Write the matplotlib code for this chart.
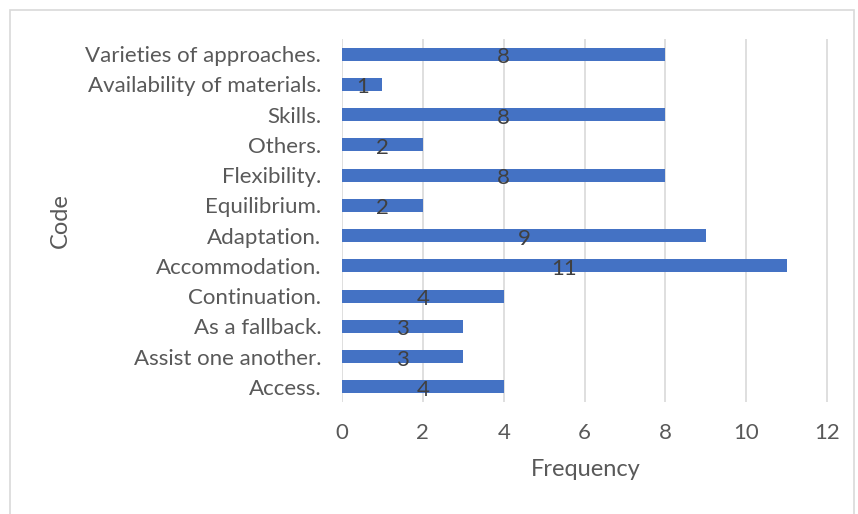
import matplotlib
matplotlib.use("Agg")
import matplotlib.pyplot as plt
from matplotlib.patches import Rectangle

plt.rcParams["font.family"] = ["Lato", "DejaVu Sans"]

# Data (bottom to top as drawn)
codes = [
    "Access.", "Assist one another.", "As a fallback.", "Continuation.",
    "Accommodation.", "Adaptation.", "Equilibrium.", "Flexibility.",
    "Others.", "Skills.", "Availability of materials.", "Varieties of approaches.",
]
freq = [4, 3, 3, 4, 11, 9, 2, 8, 2, 8, 1, 8]
xticks = [0, 2, 4, 6, 8, 10, 12]

W, H = 858, 514
fig = plt.figure(figsize=(W / 100, H / 100), dpi=100)

# chart border
fig.patches.append(Rectangle((9.5 / W, -0.02), (854 - 9.5) / W, 1 - 9.5 / H + 0.02,
                             transform=fig.transFigure, fill=False,
                             edgecolor="#D9D9D9", linewidth=1.2))

ax = fig.add_axes([342 / W, 1 - 402 / H, (830 - 342) / W, (402 - 39) / H])
ypos = range(len(codes))
ax.barh(ypos, freq, height=0.43, color="#4472C4", zorder=3)
for y, v in zip(ypos, freq):
    ax.text(v / 2, y - 0.1, str(v), ha="center", va="center",
            fontsize=16, color="#404040", zorder=4)

ax.set_xlim(0, 12.07)
ax.set_ylim(-0.5, len(codes) - 0.5)
ax.set_xticks(xticks)
ax.set_yticks(list(ypos))
ax.set_yticklabels(codes)
ax.tick_params(axis="both", length=0, labelsize=16, colors="#595959")
ax.tick_params(axis="x", pad=15)
ax.tick_params(axis="y", pad=15)
ax.grid(axis="x", color="#D9D9D9", linewidth=1.2, zorder=0)
for s in ax.spines.values():
    s.set_visible(False)

ax.set_xlabel("Frequency", fontsize=17, color="#595959", labelpad=12)
ax.set_ylabel("Code", fontsize=17, color="#595959")
ax.yaxis.set_label_coords((71 - 342) / (830 - 342), 0.5)

fig.savefig("out.png", dpi=100)
